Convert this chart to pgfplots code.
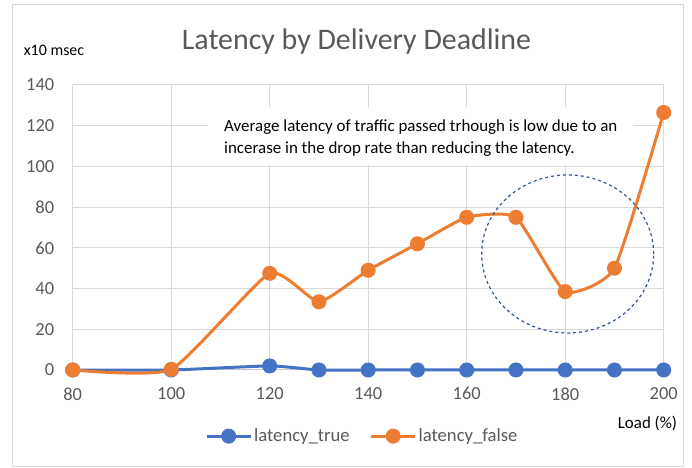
\documentclass[border=0pt]{standalone}
\usepackage{pgfplots}
\pgfplotsset{compat=1.18}
\usepackage{fontspec}
\setmainfont{Carlito}
\definecolor{ctrue}{HTML}{4472C4}
\definecolor{cfalse}{HTML}{ED7D31}
\definecolor{gridc}{HTML}{D9D9D9}
\definecolor{txt}{HTML}{595959}
\definecolor{circ}{HTML}{2F5597}
\begin{document}
\begin{tikzpicture}[x=1bp,y=1bp]
\useasboundingbox (0,0) rectangle (692,468);
\draw[gridc, line width=0.8bp] (12,2) rectangle (683,464);
\node[txt, font=\fontsize{30}{35}\selectfont] at (356.5,426) {Latency by Delivery Deadline};
\node[black, font=\fontsize{16}{19}\selectfont] at (54,418) {x10 msec};
\node[black, font=\fontsize{17}{20}\selectfont] at (647.5,45) {Load (\%)};
\begin{axis}[
  at={(72.7bp,98bp)}, anchor=south west, scale only axis,
  width=591bp, height=285bp,
  xmin=80, xmax=200, ymin=0, ymax=140,
  xtick={80,100,...,200}, ytick={0,20,...,140},
  grid=major, major grid style={gridc, line width=1bp},
  axis y line*=left, axis x line*=bottom,
  y axis line style={draw=none},
  x axis line style={draw=gridc!80!gray, line width=1bp, -},
  major tick length=0pt,
  ticklabel style={font=\fontsize{18.5}{22}\selectfont, text=txt},
  /pgf/number format/assume math mode=true,
  yticklabel style={xshift=-15bp},
  xticklabel style={yshift=-14bp},
  clip=false,
  legend style={at={(0.49,-0.232)}, anchor=center, draw=none, fill=none,
    legend columns=2, font=\fontsize{18.7}{22}\selectfont, text=txt,
    /tikz/every even column/.append style={column sep=18bp}},
  legend image code/.code={\draw[mark repeat=2,mark phase=2,#1] plot coordinates {(0bp,0bp)(22bp,0bp)(44bp,0bp)};},
]
\addplot[ctrue, line width=3bp, smooth, tension=0.3, mark=*, mark size=6bp, mark options={solid}] coordinates {
(80,0)(100,0)(120,2)(130,0)(140,0)(150,0)(160,0)(170,0)(180,0)(190,0)(200,0)};
\addlegendentry{latency\_true}
\addplot[cfalse, line width=3bp, smooth, tension=0.3, mark=*, mark size=6bp, mark options={solid}] coordinates {
(80,0)(100,0.3)(120,47.5)(130,33.5)(140,49)(150,62)(160,75)(170,75)(180,38.5)(190,50)(200,126.5)};
\addlegendentry{latency\_false}
\draw[circ, dashed, line width=1.2bp] (axis cs:180.5,57) ellipse [x radius=86bp, y radius=79bp];
\end{axis}
\fill[white] (208,303) rectangle (633,360);
\node[black, anchor=west, inner sep=0pt, text height=12bp, text depth=4bp, font=\fontsize{17}{20}\selectfont] at (224,340) {Average latency of traffic passed trhough is low due to an};
\node[black, anchor=west, inner sep=0pt, text height=12bp, text depth=4bp, font=\fontsize{17}{20}\selectfont] at (224,318) {incerase in the drop rate than reducing the latency.};
\end{tikzpicture}
\end{document}
